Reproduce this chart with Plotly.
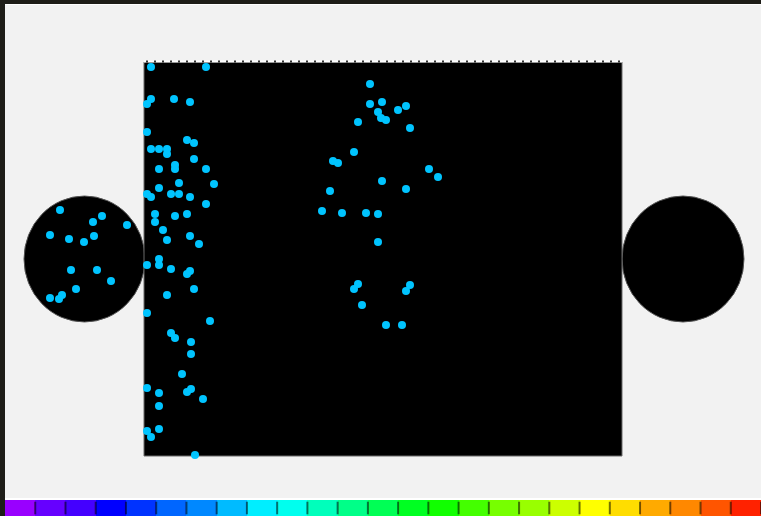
import plotly.graph_objects as go

# ---- data (pixel-space coordinates) ----
pts_x = [151, 206, 151, 174, 190, 147, 147, 187, 194, 151, 159, 167, 167, 194, 159, 175, 175, 206,
         179, 214, 159, 147, 151, 171, 179, 190, 206, 155, 175, 187, 155, 163, 167, 190, 199, 159,
         159, 147, 171, 187, 190, 194, 167, 147, 210, 171, 175, 191, 191, 182, 147, 159, 187, 191,
         203, 159, 147, 159, 151, 195,
         60, 102, 93, 127, 50, 69, 94, 84, 71, 97, 111, 76, 50, 59, 62,
         370, 370, 382, 378, 381, 386, 398, 406, 358, 410, 354, 333, 338, 429, 438, 382, 406, 330,
         322, 342, 366, 378, 378, 358, 354, 410, 406, 362, 386, 402]
pts_y = [67, 67, 99, 99, 102, 104, 132, 140, 143, 149, 149, 149, 154, 159, 169, 165, 169, 169,
         183, 184, 188, 194, 197, 194, 194, 197, 204, 214, 216, 214, 222, 230, 240, 236, 244, 259,
         265, 265, 269, 274, 271, 289, 295, 313, 321, 333, 338, 342, 354, 374, 388, 393, 392, 389,
         399, 406, 431, 429, 437, 455,
         210, 216, 222, 225, 235, 239, 236, 242, 270, 270, 281, 289, 298, 299, 295,
         84, 104, 102, 112, 118, 120, 110, 106, 122, 128, 152, 161, 163, 169, 177, 181, 189, 191,
         211, 213, 213, 214, 242, 284, 289, 285, 291, 305, 325, 325]

legend_colors = ["#9900ff", "#6600ff", "#4400ff", "#0000ff", "#0033ff", "#0066ff", "#0088ff",
                 "#00bbff", "#00eeff", "#00ffee", "#00ffbb", "#00ff88", "#00ff55", "#00ff22",
                 "#11ff00", "#44ff00", "#77ff00", "#99ff00", "#ccff00", "#ffff00", "#ffdd00",
                 "#ffaa00", "#ff8800", "#ff5500", "#ff2200"]

W, H = 761, 516
n = len(legend_colors)
x0_bar, x1_bar = 5, 761
edges = [x0_bar + (x1_bar - x0_bar) * i / n for i in range(n + 1)]
cscale = []
for i, c in enumerate(legend_colors):
    cscale.append([i / n, c])
    cscale.append([(i + 1) / n, c])

fig = go.Figure()

fig.add_trace(go.Heatmap(
    x=edges, y=[500, 516], z=[[i + 0.5 for i in range(n)]], colorscale=cscale,
    zmin=0, zmax=n, showscale=False, hoverinfo="skip"))

# small dark separator marks of the colour key
fig.add_trace(go.Scatter(
    x=edges[1:], y=[508] * n, mode="markers",
    marker=dict(symbol="line-ns", size=9, line=dict(color="rgba(0,0,0,0.55)", width=2)),
    hoverinfo="skip", showlegend=False))

fig.add_trace(go.Scatter(
    x=pts_x, y=pts_y, mode="markers",
    marker=dict(size=8, color="#00c4ff", symbol="circle", line=dict(width=0)),
    hoverinfo="skip", showlegend=False))

shapes = [
    dict(type="rect", x0=5, y0=4, x1=761, y1=499, fillcolor="#f2f2f2",
         line=dict(width=0), layer="below"),
    dict(type="line", x0=5, y0=4.5, x1=761, y1=4.5, line=dict(color="#ffffff", width=1), layer="below"),
    dict(type="line", x0=5, y0=499, x1=761, y1=499, line=dict(color="#ffffff", width=2), layer="below"),
    dict(type="circle", x0=24, y0=196, x1=145, y1=322, fillcolor="#000000",
         line=dict(color="#555555", width=1), layer="below"),
    dict(type="circle", x0=622, y0=196, x1=744, y1=322, fillcolor="#000000",
         line=dict(color="#555555", width=1), layer="below"),
    dict(type="rect", x0=144, y0=62, x1=622, y1=456, fillcolor="#000000",
         line=dict(color="#6a6a6a", width=1), layer="below"),
    dict(type="line", x0=144, y0=61.5, x1=622, y1=61.5,
         line=dict(color="#ffffff", width=2), layer="below"),
    dict(type="line", x0=146, y0=61.5, x1=622, y1=61.5,
         line=dict(color="#333333", width=2, dash="2px,6px"), layer="below"),
]

fig.update_layout(
    width=W, height=H, margin=dict(l=0, r=0, t=0, b=0),
    paper_bgcolor="#1e1d18", plot_bgcolor="#1e1d18",
    xaxis=dict(range=[0, W], visible=False, fixedrange=True),
    yaxis=dict(range=[H, 0], visible=False, fixedrange=True),
    shapes=shapes, showlegend=False,
)

fig.write_html("out.html")
